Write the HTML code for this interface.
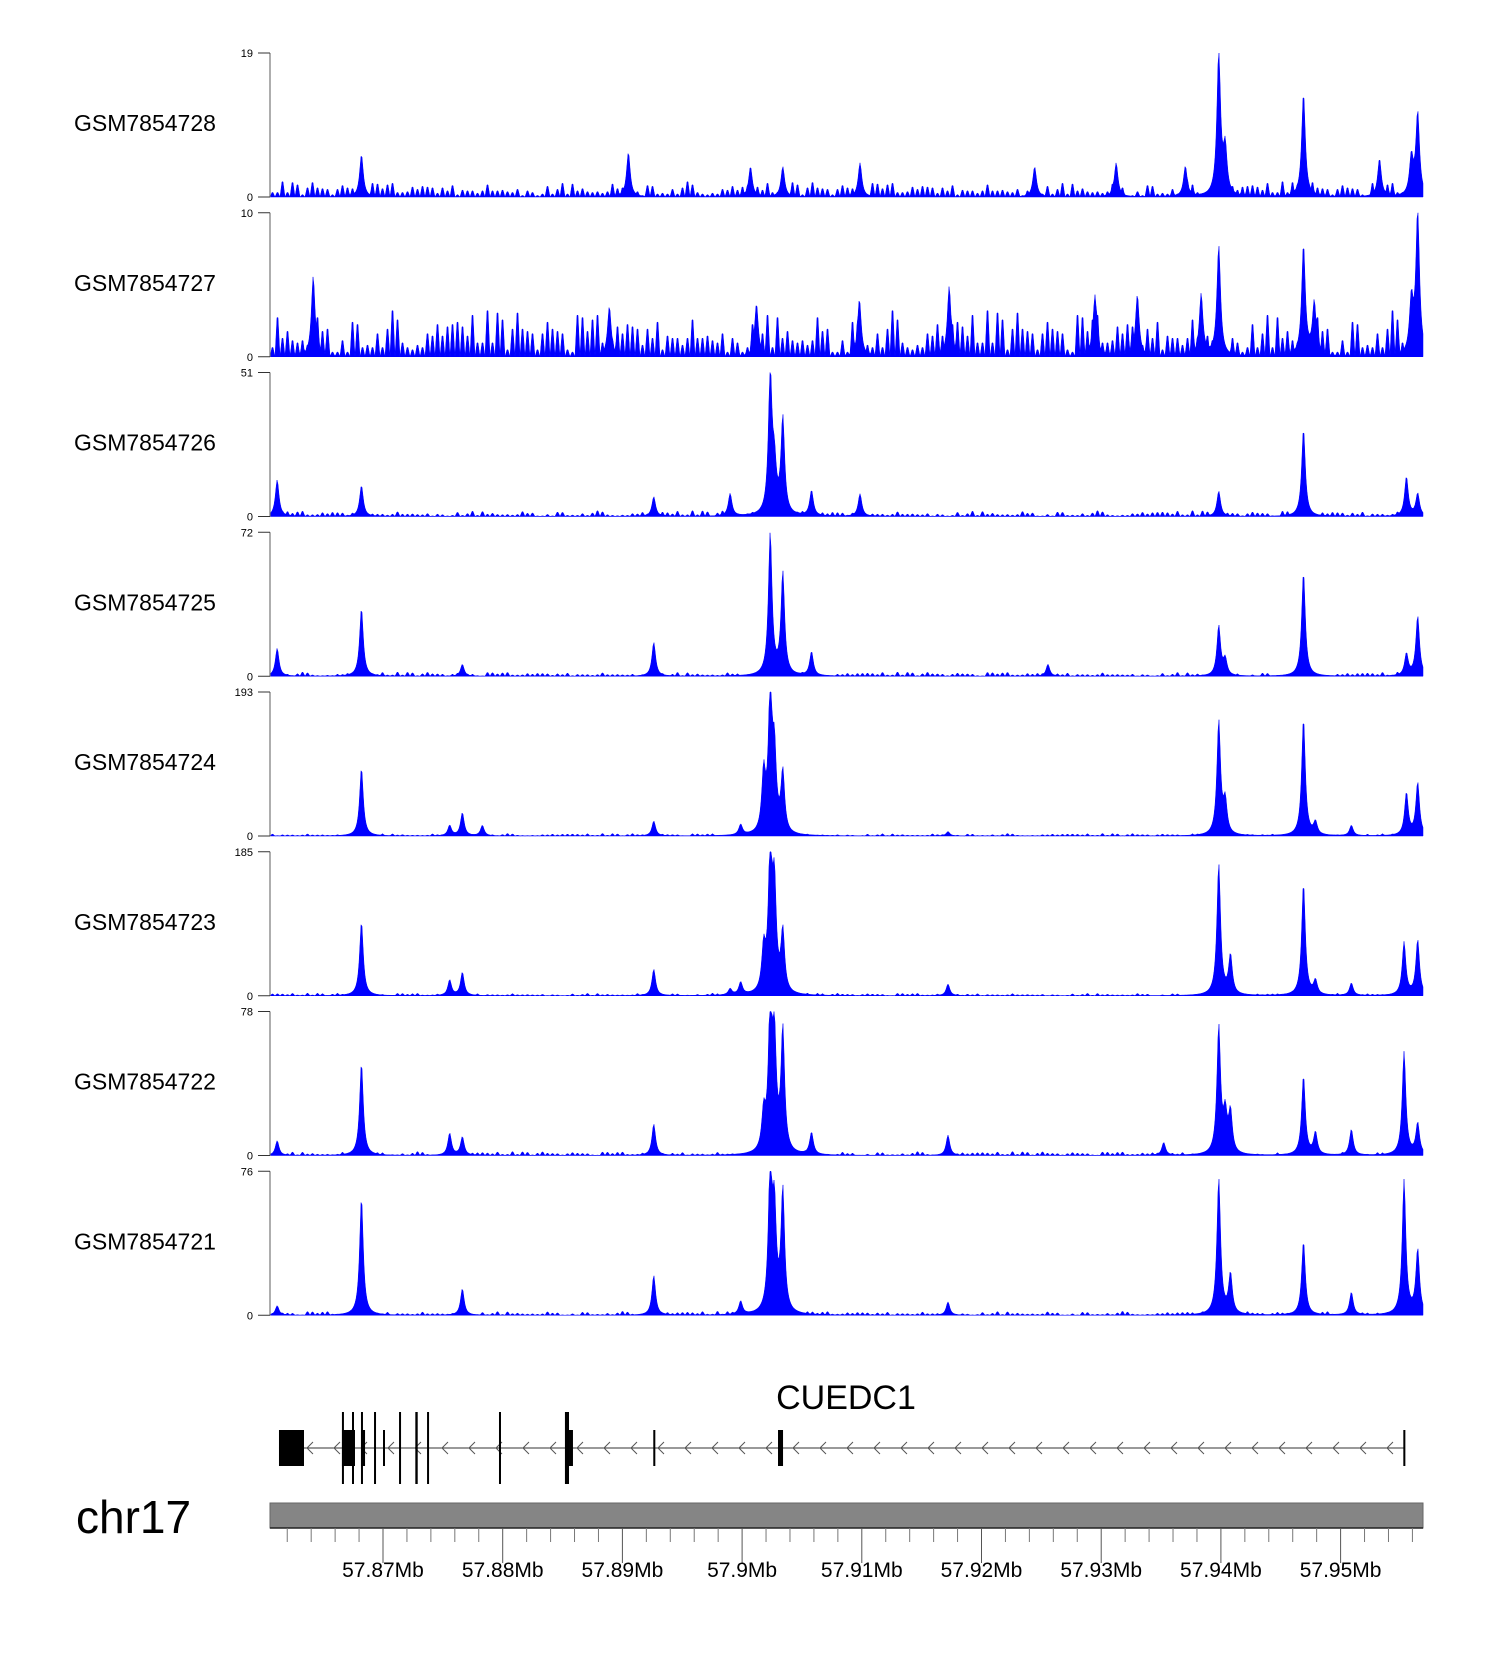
<!DOCTYPE html>
<html><head><meta charset="utf-8"><style>
html,body{margin:0;padding:0;background:#fff;}
svg{display:block;font-family:"Liberation Sans",Arial,sans-serif;}
</style></head><body>
<svg id="chart" width="1500" height="1660" viewBox="0 0 1500 1660" xmlns="http://www.w3.org/2000/svg">
<g id="tracks"></g>
<g id="gene"></g>
<g id="axis"></g>
</svg>
<script>
const trackNames = ["GSM7854728","GSM7854727","GSM7854726","GSM7854725","GSM7854724","GSM7854723","GSM7854722","GSM7854721"];
const trackMax = [19,10,51,72,193,185,78,76];
const noiseLevel = [2.5,4,2.5,2.5,4,4,2.5,2.5];
const noise = [.3,.8,.2,.5,.1,.6,.9,.3,.4,.15,.7,.35,.55,.2,1,.4,.25,.65,.1,.5,.85,.3,.45,.2,.6,.75,.15,.4,.95,.35,.5,.25,.7,.1,.55,.8,.3,.45,.6,.2,.9,.35,.15,.5,.7,.4,.25,.85,.3,.6,.1,.45,.75,.2,.55,.35,.95,.4,.65,.15,.5,.8,.25,.6,.3,.7,.45,.2,.9,.35,.55,.1,.75,.4,.6,.3,.85,.5,.2,.65,.4,1,.3,.55,.15,.7,.45,.25,.8,.35,.6,.5,.2,.9,.4,.3,.65,.1,.75,.5];
const peaks0 = [[57.93982,19],[57.94036,6],[57.9469,13.7],[57.95644,11],[57.95591,5],[57.8682,5.6],[57.8905,5.9],[57.9007,4],[57.90985,4.5],[57.93125,4.5],[57.95325,5],[57.93703,4],[57.92444,4],[57.9034,4]];
const peaks1 = [[57.95644,10],[57.93982,7.7],[57.9469,7.7],[57.86417,5.6],[57.9173,4.9],[57.93302,4.3],[57.92948,4.3],[57.93835,4.3],[57.9478,3.7],[57.95591,3.7],[57.88891,3.5],[57.9012,3.7],[57.9098,4]];
const peaks2 = [[57.90235,50],[57.9034,34],[57.9027,15],[57.9469,31],[57.8682,11],[57.86116,13],[57.9058,9],[57.93982,9],[57.9555,14],[57.95644,8],[57.89262,7],[57.8990,8],[57.90985,8]];
const peaks3 = [[57.90235,71],[57.9034,51],[57.8682,34],[57.86116,14],[57.93982,25],[57.9469,52],[57.95644,30],[57.89262,17],[57.9058,12],[57.87663,6],[57.92555,6],[57.9555,11],[57.94036,8]];
const peaks4 = [[57.90235,190],[57.9018,78],[57.9034,81],[57.9027,100],[57.8682,91],[57.93982,153],[57.94036,43],[57.9469,157],[57.87663,31],[57.87557,14],[57.8783,14],[57.89262,20],[57.9555,57],[57.95644,71],[57.9479,17],[57.9509,14],[57.9172,6],[57.89988,14]];
const peaks5 = [[57.90235,182],[57.9027,129],[57.9034,78],[57.9018,54],[57.8682,95],[57.93982,169],[57.9408,50],[57.9469,144],[57.87663,30],[57.87557,20],[57.89262,34],[57.9553,68],[57.95644,71],[57.9479,18],[57.9509,16],[57.9172,15],[57.89988,16],[57.8990,8]];
const peaks6 = [[57.90235,77],[57.9027,57],[57.9034,66],[57.9018,20],[57.8682,50],[57.93982,69],[57.94036,20],[57.9408,22],[57.9469,43],[57.9509,14],[57.9479,12],[57.9553,56],[57.95644,17],[57.89262,17],[57.9172,11],[57.87663,10],[57.87557,12],[57.93522,7],[57.86116,8],[57.9058,12]];
const peaks7 = [[57.8682,62],[57.87663,14],[57.89262,21],[57.90235,76],[57.9027,50],[57.9034,64],[57.93982,72],[57.9408,21],[57.9469,39],[57.9509,12],[57.9553,71],[57.95644,34],[57.86116,5],[57.9172,7],[57.89988,7]];
const allPeaks = [peaks0,peaks1,peaks2,peaks3,peaks4,peaks5,peaks6,peaks7];
const exons = [[57.86131,57.86340,"med"],[57.86657,57.86766,"med"],[57.86657,57.86670,"tall"],[57.86741,57.86754,"tall"],[57.86816,57.8685,"med"],[57.86816,57.86829,"tall"],[57.86925,57.86937,"tall"],[57.87,57.87008,"med"],[57.87134,57.87146,"tall"],[57.87270,57.87290,"tall"],[57.87368,57.87380,"tall"],[57.87969,57.87981,"tall"],[57.8852,57.88554,"tall"],[57.88554,57.88587,"med"],[57.89258,57.89275,"med"],[57.903,57.90342,"med"],[57.95524,57.95541,"med"]];
const geneStart = 57.86131, geneEnd = 57.9553;
const majorTicks = [57.87,57.88,57.89,57.90,57.91,57.92,57.93,57.94,57.95];
const majorLabels = ["57.87Mb","57.88Mb","57.89Mb","57.9Mb","57.91Mb","57.92Mb","57.93Mb","57.94Mb","57.95Mb"];

const NS="http://www.w3.org/2000/svg";
const X0=270, X1=1423, PX_PER_MB=11970, REF=57.87, REFX=383;
function xs(mb){return REFX+(mb-REF)*PX_PER_MB;}
function mk(tag,attrs,parent){const e=document.createElementNS(NS,tag);for(const k in attrs)e.setAttribute(k,attrs[k]);parent.appendChild(e);return e;}
const tracks=document.getElementById('tracks');
const STEP=159.75, TOP0=53, H=144;
trackNames.forEach((name,i)=>{
  const top=TOP0+STEP*i, zero=top+H, mx=trackMax[i];
  const g=mk('g',{},tracks);
  
  
  const lab=mk('text',{x:74,y:top+78,'font-size':23,fill:'#000'},g);
  lab.textContent=name;
  
  
  const pk=allPeaks[i];
  let d='M'+X0+','+zero;
  for(let x=X0;x<=X1;x++){
    const bin=Math.floor((x-X0)/5), frac=((x-X0)%5)/5;
    const nv=noise[(bin*7+i*13)%noise.length]*noiseLevel[i]*(1-Math.abs(frac-0.5)*2);
    let pv=0;
    pk.forEach(p=>{const dx=(x-xs(p[0]))/2.2;pv+=p[1]/(1+dx*dx);});
    let v=Math.min(Math.max(nv,pv),mx);
    d+=' L'+x+','+(zero-v/mx*H).toFixed(1);
  }
  d+=' L'+X1+','+zero+' Z';
  const area=mk('path',{d:d,fill:'#0000FF',stroke:'#0000FF','stroke-width':0.5},g);
  
  
  const ax=mk('line',{x1:X0,y1:top,x2:X0,y2:zero,stroke:'#777','stroke-width':1.2},g);
  
  
  [[top,String(mx)],[zero,'0']].forEach(t=>{
    const tl=mk('line',{x1:258,y1:t[0],x2:X0,y2:t[0],stroke:'#333','stroke-width':1},g);
    
    
    const tt=mk('text',{x:253,y:t[0]+4,'font-size':11,'text-anchor':'end',fill:'#000'},g);
    tt.textContent=t[1];
    
    
  });
});
const gene=document.getElementById('gene');
const GY=1448;
const gl=mk('text',{x:846,y:1409,'font-size':34,'text-anchor':'middle',fill:'#000'},gene);
gl.textContent='CUEDC1';


const intron=mk('line',{x1:xs(geneStart),y1:GY,x2:xs(geneEnd),y2:GY,stroke:'#333','stroke-width':1},gene);


for(let x=xs(geneStart)+28;x<xs(geneEnd)-4;x+=27){
  const a=mk('path',{d:'M'+(x+6)+','+(GY-6)+' L'+x+','+GY+' L'+(x+6)+','+(GY+6),fill:'none',stroke:'#555','stroke-width':1},gene);
  
  
}
exons.forEach(e=>{
  const h=e[2]==='tall'?36:18;
  const x=xs(e[0]), w=Math.max(xs(e[1])-x,2);
  const r=mk('rect',{x:x,y:GY-h,width:w,height:2*h,fill:'#000'},gene);
  
  
});
const axis=document.getElementById('axis');
const chr=mk('text',{x:76,y:1533,'font-size':46,fill:'#000'},axis);
chr.textContent='chr17';


const bar=mk('rect',{x:X0,y:1503,width:X1-X0,height:25,fill:'#858585',stroke:'#666','stroke-width':1},axis);


mk('line',{x1:X0,y1:1528,x2:X1,y2:1528,stroke:'#222','stroke-width':1.5},axis);
for(let k=0;k<=48;k++){
  const kb=862+k*2, x=xs(57+kb/1000);
  if(x<X0||x>X1)continue;
  if(kb%10===0)continue;
  const t=mk('line',{x1:x,y1:1528,x2:x,y2:1542,stroke:'#777','stroke-width':1},axis);
  
  
}
majorTicks.forEach((mb,i)=>{
  const x=xs(mb);
  const t=mk('line',{x1:x,y1:1528,x2:x,y2:1563,stroke:'#555','stroke-width':1},axis);
  
  
  const l=mk('text',{x:x,y:1577,'font-size':21,'text-anchor':'middle',fill:'#000'},axis);
  l.textContent=majorLabels[i];
  
  
});
</script>
</body></html>
